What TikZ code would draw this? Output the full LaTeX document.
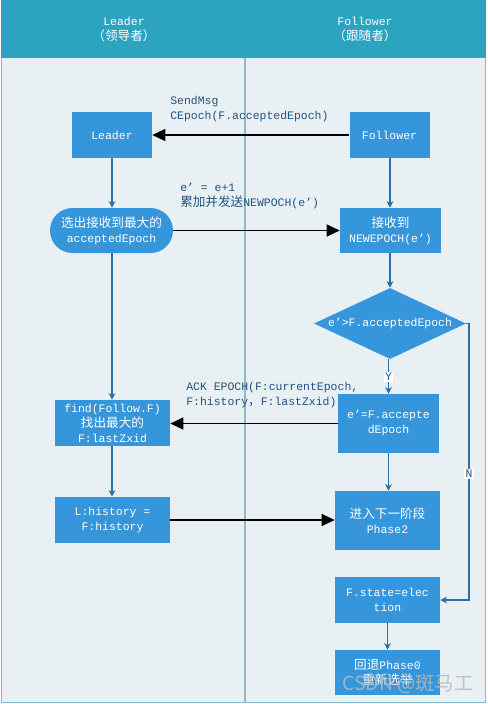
\documentclass[tikz,border=0pt]{standalone}
\usepackage{fontspec}
\setmainfont{Liberation Mono}
\newfontfamily\cjk{Noto Sans CJK SC}[Scale=1.1]
\newfontfamily\wmfont{Noto Sans CJK SC}
\usetikzlibrary{shapes.geometric,arrows.meta}
\definecolor{hdr}{HTML}{2CA3BF}
\definecolor{bgc}{HTML}{E8F0F4}
\definecolor{boxc}{HTML}{3596DB}
\definecolor{divc}{HTML}{8AB8CC}
\definecolor{linec}{HTML}{2E6FA3}
\definecolor{lblc}{HTML}{24527F}
\tikzset{
  box/.style={fill=boxc, text=white, inner sep=0pt, align=center},
  flow/.style={draw=linec, line width=0.8pt, -{Stealth[length=5pt,width=5pt]}},
  msg/.style={draw=black, line width=0.8pt, -{Triangle[length=9.75pt,width=9pt]}},
  lbl/.style={text=lblc, align=left, inner sep=0pt, anchor=west},
  yn/.style={fill=white, text=lblc, inner sep=1pt},
  hd/.style={text=white, align=center, inner sep=0pt}
}
\begin{document}
\begin{tikzpicture}[x=0.75pt,y=-0.75pt,font=\fontsize{8.6}{11.25}\selectfont]
\useasboundingbox (0,0) rectangle (487,704);
% lanes
\fill[bgc] (1,0) rectangle (486,703);
\fill[hdr] (1,0) rectangle (486,58);
\draw[divc, line width=0.9pt] (245,58) -- (245,703);
\draw[divc, line width=1.1pt] (1.5,58) -- (1.5,702.6) -- (485.5,702.6) -- (485.5,58);
\node[hd] (h1) at (124,29) {Leader\\{\cjk （领导者）}};
\node[hd] (h2) at (365,29) {Follower\\{\cjk （跟随者）}};
% nodes
\node[box, minimum width=60pt, minimum height=34.5pt] (leader) at (112,135) {Leader};
\node[box, minimum width=60pt, minimum height=34.5pt] (follower) at (389.5,135) {Follower};
\node[box, minimum width=92.25pt, minimum height=33.75pt, rounded corners=16.8pt] (sel) at (111.5,230.5) {{\cjk 选出接收到最大的}\\acceptedEpoch};
\node[box, minimum width=75.75pt, minimum height=33.75pt] (recv) at (390.5,230.5) {{\cjk 接收到}\\NEWEPOCH(e’)};
\node[diamond, fill=boxc, inner sep=0pt, minimum width=114pt, minimum height=53.25pt] (dia) at (390,323.5) {};
\node[text=white, inner sep=0pt] (diatext) at (dia.center) {e’>F.acceptedEpoch};
\node[box, minimum width=75.75pt, minimum height=44.25pt] (ack) at (388.5,423.5) {e’=F.accepte\\dEpoch};
\node[box, minimum width=86.25pt, minimum height=34.5pt] (find) at (112.5,423) {find(Follow.F)\\{\cjk 找出最大的}\\F:lastZxid};
\node[box, minimum width=86.25pt, minimum height=34.5pt] (hist) at (112.5,520) {L:history =\\F:history};
\node[box, minimum width=78.75pt, minimum height=44.25pt] (phase2) at (387.5,520.5) {{\cjk 进入下一阶段}\\Phase2};
\node[box, minimum width=78.75pt, minimum height=34.5pt] (state) at (387.5,600) {F.state=elec\\tion};
\node[box, minimum width=78.75pt, minimum height=33.75pt] (back) at (387.5,672.5) {{\cjk 回退}Phase0\\{\cjk 重新选举}};
% flow connectors
\draw[flow] (leader.south) -- (sel.north -| leader.south);
\draw[flow] (sel.south -| leader.south) -- (find.north -| leader.south);
\draw[flow] (find.south -| leader.south) -- (hist.north -| leader.south);
\draw[flow] (follower.south -| dia.north) -- (recv.north -| dia.north);
\draw[flow] (recv.south -| dia.north) -- (dia.north);
\draw[flow] (dia.south) ++(-1.5,0) coordinate (ds) -- (ds |- ack.north);
\node[yn] (ylab) at (388.5,377) {Y};
\draw[flow] (ack.south -| ds) -- (phase2.north -| ds);
\coordinate (nr) at (469,323.5);
\draw[flow] (dia.east) -- (nr) |- (state.east);
\node[yn] (nlab) at (469,474) {N};
\draw[flow] (state.south) -- (back.north);
% message connectors
\draw[msg] (follower.west) -- (leader.east);
\draw[msg] (sel.east) -- (recv.west);
\draw[msg] (ack.west) -- (ack.west -| find.east);
\draw[msg] (hist.east) -- (hist.east -| phase2.west);
% labels
\node[lbl] (l1) at (170,109.5) {SendMsg\\CEpoch(F.acceptedEpoch)};
\node[lbl] (l2) at (180,196) {e’ = e+1\\{\cjk 累加并发送}NEWPOCH(e’)};
\node[lbl] (l3) at (186,395) {ACK EPOCH(F:currentEpoch,\\F:history{\cjk ，}F:lastZxid)};
% watermark
\node[text=gray!55, opacity=0.85, inner sep=0pt, font=\wmfont\fontsize{14.5}{16}\selectfont] (wm) at (408,684) {CSDN @斑马工};
\end{tikzpicture}
\end{document}
